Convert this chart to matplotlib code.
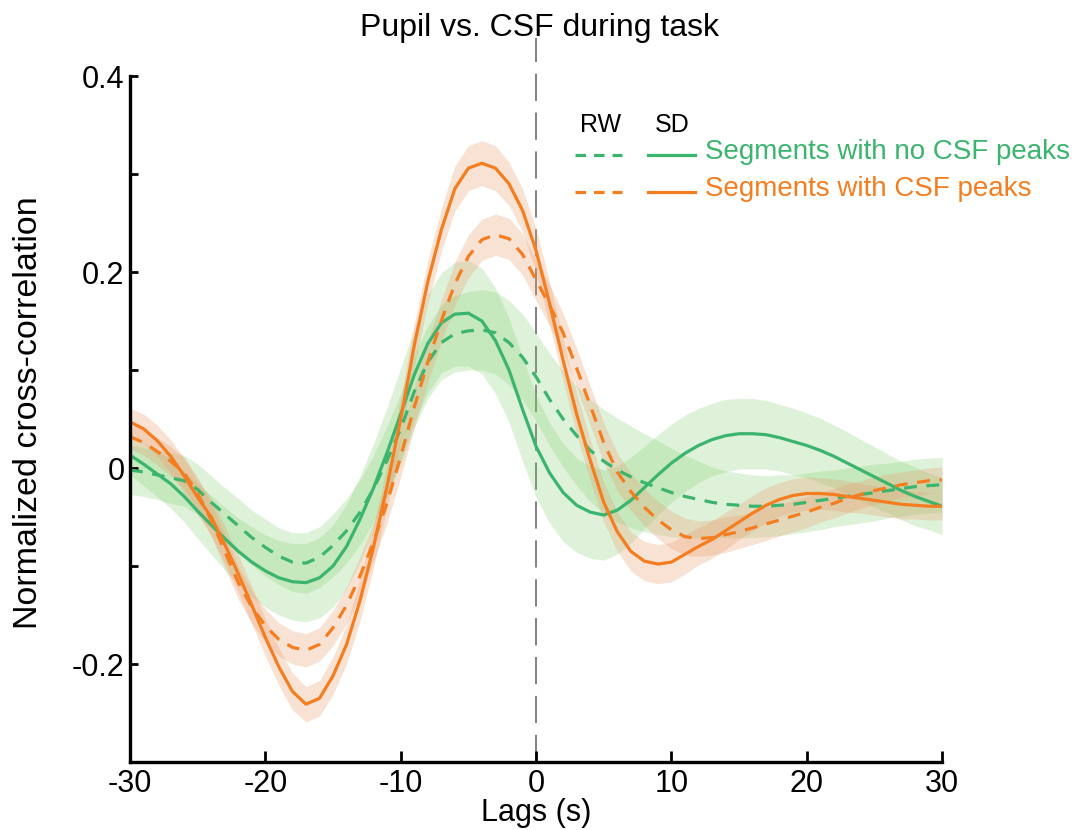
import matplotlib
matplotlib.use("Agg")
import matplotlib.pyplot as plt
import numpy as np

plt.rcParams['font.family'] = ['Liberation Sans', 'DejaVu Sans']

# lags in seconds
lags = np.arange(-30, 31)

# SD, segments with CSF peaks (orange solid)
sd_peaks = [0.047, 0.040, 0.028, 0.012, -0.008, -0.030, -0.050, -0.078, -0.108, -0.140,
            -0.173, -0.203, -0.228, -0.241, -0.235, -0.212, -0.180, -0.135, -0.080, -0.018,
            0.050, 0.125, 0.190, 0.243, 0.285, 0.306, 0.311, 0.306, 0.290, 0.263,
            0.222, 0.168, 0.110, 0.055, 0.008, -0.035, -0.065, -0.085, -0.095, -0.098,
            -0.096, -0.088, -0.080, -0.073, -0.064, -0.055, -0.046, -0.038, -0.032, -0.028,
            -0.026, -0.026, -0.027, -0.029, -0.031, -0.033, -0.035, -0.037, -0.038, -0.039,
            -0.039]
# RW, segments with CSF peaks (orange dashed)
rw_peaks = [0.032, 0.026, 0.017, 0.007, -0.005, -0.026, -0.053, -0.085, -0.117, -0.142,
            -0.161, -0.175, -0.183, -0.186, -0.180, -0.163, -0.140, -0.110, -0.075, -0.035,
            0.012, 0.062, 0.108, 0.150, 0.188, 0.216, 0.233, 0.238, 0.234, 0.218,
            0.192, 0.166, 0.138, 0.102, 0.064, 0.026, -0.004, -0.024, -0.040, -0.053,
            -0.063, -0.070, -0.072, -0.071, -0.068, -0.065, -0.061, -0.057, -0.053, -0.049,
            -0.045, -0.040, -0.036, -0.031, -0.027, -0.023, -0.020, -0.017, -0.015, -0.013,
            -0.012]
# SD, segments with no CSF peaks (green solid)
sd_nopeaks = [0.013, 0.004, -0.006, -0.016, -0.029, -0.044, -0.058, -0.072, -0.085, -0.096,
              -0.105, -0.112, -0.116, -0.117, -0.112, -0.100, -0.080, -0.052, -0.020, 0.016,
              0.055, 0.095, 0.127, 0.148, 0.157, 0.158, 0.150, 0.130, 0.100, 0.060,
              0.022, -0.005, -0.025, -0.038, -0.045, -0.048, -0.043, -0.033, -0.020, -0.007,
              0.005, 0.015, 0.023, 0.029, 0.033, 0.035, 0.035, 0.034, 0.031, 0.027,
              0.023, 0.018, 0.012, 0.005, -0.002, -0.009, -0.016, -0.023, -0.029, -0.034,
              -0.039]
# RW, segments with no CSF peaks (green dashed)
rw_nopeaks = [-0.002, -0.004, -0.007, -0.010, -0.013, -0.022, -0.035, -0.047, -0.059, -0.071,
              -0.081, -0.090, -0.096, -0.097, -0.091, -0.079, -0.064, -0.045, -0.021, 0.008,
              0.040, 0.078, 0.108, 0.128, 0.137, 0.140, 0.141, 0.138, 0.128, 0.113,
              0.093, 0.070, 0.050, 0.033, 0.018, 0.007, -0.002, -0.009, -0.015, -0.020,
              -0.025, -0.029, -0.032, -0.035, -0.037, -0.038, -0.039, -0.039, -0.038, -0.037,
              -0.035, -0.033, -0.031, -0.029, -0.027, -0.025, -0.023, -0.021, -0.019, -0.018,
              -0.017]

# error band half widths
err_sd_peaks = [0.014, 0.015, 0.016, 0.017, 0.018, 0.018, 0.019, 0.019, 0.019, 0.019,
                0.019, 0.019, 0.019, 0.018, 0.018, 0.019, 0.020, 0.021, 0.021, 0.022,
                0.022, 0.022, 0.022, 0.022, 0.023, 0.023, 0.023, 0.023, 0.022, 0.022,
                0.022, 0.022, 0.021, 0.021, 0.021, 0.020, 0.020, 0.020, 0.020, 0.020,
                0.020, 0.020, 0.019, 0.019, 0.019, 0.018, 0.018, 0.018, 0.017, 0.017,
                0.017, 0.016, 0.016, 0.016, 0.015, 0.015, 0.015, 0.015, 0.014, 0.014,
                0.014]
err_rw_peaks = [0.012, 0.013, 0.014, 0.015, 0.016, 0.016, 0.017, 0.017, 0.017, 0.017,
                0.017, 0.017, 0.017, 0.017, 0.017, 0.018, 0.019, 0.020, 0.020, 0.021,
                0.021, 0.021, 0.021, 0.021, 0.022, 0.022, 0.021, 0.021, 0.021, 0.021,
                0.021, 0.021, 0.020, 0.020, 0.020, 0.020, 0.019, 0.019, 0.019, 0.019,
                0.019, 0.019, 0.018, 0.018, 0.018, 0.017, 0.017, 0.017, 0.016, 0.016,
                0.016, 0.015, 0.015, 0.015, 0.014, 0.014, 0.014, 0.013, 0.013, 0.013,
                0.013]
err_sd_nopeaks = [0.020, 0.022, 0.023, 0.025, 0.026, 0.028, 0.030, 0.032, 0.034, 0.036,
                  0.037, 0.038, 0.039, 0.040, 0.041, 0.042, 0.043, 0.044, 0.045, 0.046,
                  0.047, 0.048, 0.050, 0.051, 0.053, 0.054, 0.054, 0.054, 0.053, 0.053,
                  0.052, 0.051, 0.050, 0.048, 0.047, 0.046, 0.045, 0.044, 0.042, 0.041,
                  0.040, 0.039, 0.038, 0.037, 0.037, 0.036, 0.036, 0.035, 0.034, 0.034,
                  0.033, 0.033, 0.032, 0.032, 0.031, 0.031, 0.030, 0.030, 0.030, 0.029,
                  0.029]
err_rw_nopeaks = [0.025, 0.025, 0.025, 0.026, 0.026, 0.026, 0.027, 0.027, 0.028, 0.028,
                  0.029, 0.029, 0.030, 0.031, 0.031, 0.032, 0.033, 0.033, 0.034, 0.035,
                  0.036, 0.037, 0.037, 0.038, 0.039, 0.040, 0.041, 0.042, 0.043, 0.044,
                  0.045, 0.047, 0.049, 0.051, 0.052, 0.053, 0.053, 0.052, 0.050, 0.048,
                  0.045, 0.042, 0.039, 0.036, 0.034, 0.033, 0.032, 0.031, 0.031, 0.030,
                  0.030, 0.030, 0.029, 0.029, 0.029, 0.029, 0.028, 0.028, 0.028, 0.028,
                  0.028]

green = '#3bb46e'
orange = '#f47d20'
green_fill = '#7ccd6b'
orange_fill = '#e8a070'

fig = plt.figure(figsize=(10.72, 8.3), dpi=100)
ax = fig.add_axes([0.1213, 0.0819, 0.7575, 0.8265])

def band(mean, err, color, alpha):
    m = np.array(mean)
    e = np.array(err)
    ax.fill_between(lags, m - e, m + e, color=color, alpha=alpha, lw=0)

band(sd_nopeaks, err_sd_nopeaks, green_fill, 0.25)
band(rw_nopeaks, err_rw_nopeaks, green_fill, 0.25)
ax.plot(lags, rw_nopeaks, color=green, lw=2.3, dashes=(4, 3))
ax.plot(lags, sd_nopeaks, color=green, lw=2.3)
band(sd_peaks, err_sd_peaks, orange_fill, 0.3)
band(rw_peaks, err_rw_peaks, orange_fill, 0.3)
ax.plot(lags, rw_peaks, color=orange, lw=2.3, dashes=(4, 3))
ax.plot(lags, sd_peaks, color=orange, lw=2.3)

# zero-lag marker, runs above the axes
ax.plot([0, 0], [-0.3, 0.439], color='#808080', lw=1.4, dashes=(14, 6), clip_on=False, zorder=0)

ax.set_xlim(-30, 30)
ax.set_ylim(-0.3, 0.4)
ax.spines['top'].set_visible(False)
ax.spines['right'].set_visible(False)
for s in ['left', 'bottom']:
    ax.spines[s].set_linewidth(2.4)

ax.set_xticks([-30, -20, -10, 0, 10, 20, 30])
ax.set_xticklabels(['-30', '-20', '-10', '0', '10', '20', '30'])
ax.set_yticks([-0.2, 0, 0.2, 0.4])
ax.set_yticklabels(['-0.2', '0', '0.2', '0.4'])
ax.set_yticks([-0.1, 0.1, 0.3], minor=True)
ax.tick_params(axis='both', which='both', direction='in', width=2, labelsize=22)
ax.tick_params(axis='x', length=8, pad=5)
ax.tick_params(axis='y', which='both', length=6, pad=4)

ax.set_xlabel('Lags (s)', fontsize=22, labelpad=-1)
ax.set_ylabel('Normalized cross-correlation', fontsize=24.5)
ax.yaxis.set_label_coords(-0.106, 0.51)

fig.text(0.503, 0.966, 'Pupil vs. CSF during task', ha='center', va='center', fontsize=23)

# legend drawn by hand
ax.text(0.579, 0.9286, 'RW', transform=ax.transAxes, ha='center', va='center', fontsize=18)
ax.text(0.6675, 0.9286, 'SD', transform=ax.transAxes, ha='center', va='center', fontsize=18)
for y, c, lab in [(0.885, green, 'Segments with no CSF peaks'), (0.831, orange, 'Segments with CSF peaks')]:
    ax.plot([0.548, 0.606], [y, y], color=c, lw=2.3, dashes=(3.3, 2.5), transform=ax.transAxes, clip_on=False)
    ax.plot([0.638, 0.696], [y, y], color=c, lw=2.3, transform=ax.transAxes, clip_on=False)
    ax.text(0.708, y + 0.004, lab, transform=ax.transAxes, ha='left', va='center', fontsize=20, color=c)

fig.savefig('out.png', dpi=100)
